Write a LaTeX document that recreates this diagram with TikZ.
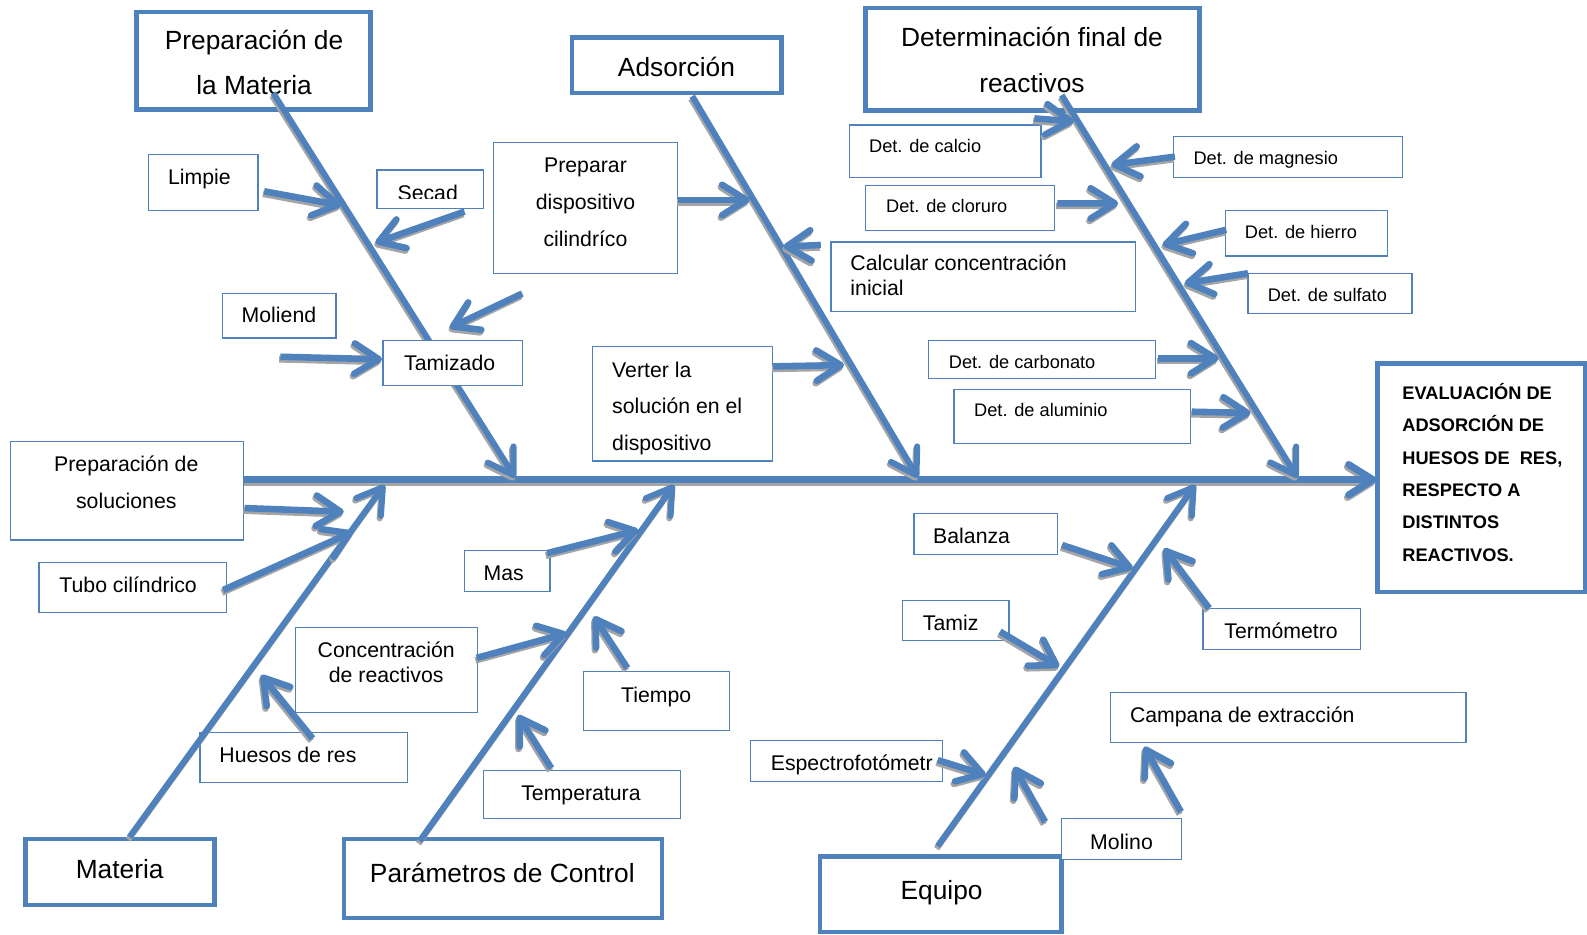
\documentclass[tikz,border=0pt]{standalone}
\usepackage{fontspec}
\setmainfont{Liberation Sans}
\usetikzlibrary{arrows.meta}
\definecolor{myblue}{RGB}{79,129,189}
\definecolor{shad}{RGB}{165,165,165}
\tikzset{
  every node/.style={inner sep=0pt, outer sep=0pt},
  thinbox/.style={draw=myblue, line width=1.2pt, fill=white, rectangle, anchor=north west},
  thickbox/.style={draw=myblue, line width=4.5pt, fill=white, rectangle, anchor=north west},
  tipstyle/.style={-{Straight Barb[length=24pt,width=30pt,round]}},
  blueline/.style={draw=myblue, tipstyle},
  shadowline/.style={draw=shad, tipstyle},
  cat/.style={font=\fontsize{26}{30}\selectfont, anchor=base},
  sub/.style={font=\fontsize{21}{25}\selectfont, anchor=base},
  subl/.style={font=\fontsize{21}{25}\selectfont, anchor=base west},
  detl/.style={font=\fontsize{18}{22}\selectfont, anchor=base west},
  res/.style={font=\fontsize{18}{22}\selectfont\bfseries, anchor=base west},
}
\newcommand{\fbarrow}[3]{%
  \draw[shadowline, line width=#1, transform canvas={shift={(-1.2pt,-2.5pt)}}] (#2) -- (#3);
  \draw[blueline, line width=#1] (#2) -- (#3);}
\begin{document}
\begin{tikzpicture}[x=1pt, y=-1pt]
\useasboundingbox (0,0) rectangle (1568,923);

% ---------- category boxes ----------
\node[thickbox, minimum width=231pt, minimum height=96pt] (prepmat) at (135,12) {};
\node[thickbox, minimum width=207pt, minimum height=55pt] (adsor) at (565,37) {};
\node[thickbox, minimum width=330pt, minimum height=101pt] (deter) at (855,8) {};
\node[thickbox, minimum width=187pt, minimum height=65pt] (materia) at (25,829) {};
\node[thickbox, minimum width=314pt, minimum height=78pt] (param) at (340,829) {};
\node[thickbox, minimum width=239pt, minimum height=75pt] (equipo) at (810,846) {};
\node[thickbox, minimum width=205pt, minimum height=226pt] (result) at (1361,359) {};

\node[cat] (tpm1) at (251,49) {Preparación de};
\node[cat] (tpm2) at (251,93.5) {la Materia};
\node[cat] (tads) at (668.4,75.3) {Adsorción};
\node[cat] (tdet1) at (1019.6,46.3) {Determinación final de};
\node[cat] (tdet2) at (1019.6,91.7) {reactivos};
\node[cat] (tmat) at (118.2,868.4) {Materia};
\node[cat] (tpar) at (496.3,871.7) {Parámetros de Control};
\node[cat] (tequ) at (930.3,888.8) {Equipo};

\node[res] (r1) at (1385.6,394.5) {EVALUACIÓN DE};
\node[res] (r2) at (1385.6,426.5) {ADSORCIÓN DE};
\node[res] (r3) at (1385.6,458.5) {HUESOS DE\ \ RES,};
\node[res] (r4) at (1385.6,490.5) {RESPECTO A};
\node[res] (r5) at (1385.6,522.5) {DISTINTOS};
\node[res] (r6) at (1385.6,554.5) {REACTIVOS.};

% box crossed by a bone
\node[thinbox, minimum width=205.5pt, minimum height=49.5pt] (huesos) at (197.5,723.5) {};

% ---------- spine and bones ----------
\coordinate (sp0) at (240.5,474);
\coordinate (sp1) at (1360,474);
\coordinate (b1s) at (270,92);    \coordinate (b1e) at (509,472);
\coordinate (b2s) at (684,95);    \coordinate (b2e) at (907,472);
\coordinate (b3s) at (1049,94);   \coordinate (b3e) at (1282,472);
\coordinate (b4s) at (128,827);   \coordinate (b4e) at (380,479);
\coordinate (b5s) at (414.6,831); \coordinate (b5e) at (666,479);
\coordinate (b6s) at (926.5,836); \coordinate (b6e) at (1181,479);
\fbarrow{7pt}{sp0}{sp1}
\fbarrow{6pt}{b1s}{b1e}
\fbarrow{6pt}{b2s}{b2e}
\fbarrow{6pt}{b3s}{b3e}
\fbarrow{6pt}{b4s}{b4e}
\fbarrow{6pt}{b5s}{b5e}
\fbarrow{6pt}{b6s}{b6e}

% ---------- thin boxes ----------
\node[thinbox, minimum width=108pt, minimum height=55pt] (limpie) at (147,153) {};
\node[thinbox, minimum width=105pt, minimum height=38pt] (secad) at (372.5,168) {};
\node[thinbox, minimum width=112pt, minimum height=44pt] (moliend) at (220,290) {};
\node[thinbox, minimum width=138pt, minimum height=44.5pt] (tamizado) at (378.5,336.5) {};
\node[thinbox, minimum width=230.5pt, minimum height=97pt] (prepsol) at (10,436.5) {};
\node[thinbox, minimum width=182pt, minimum height=129pt] (preparar) at (487.5,141) {};
\node[thinbox, minimum width=177.5pt, minimum height=113pt] (verter) at (585.5,342.5) {};
\node[thinbox, minimum width=301pt, minimum height=69pt] (calcular) at (821,239) {};
\node[thinbox, minimum width=189pt, minimum height=51.5pt] (calcio) at (839.5,123.5) {};
\node[thinbox, minimum width=226pt, minimum height=40pt] (magnesio) at (1159.5,135) {};
\node[thinbox, minimum width=186.5pt, minimum height=44pt] (cloruro) at (855,183.5) {};
\node[thinbox, minimum width=160.5pt, minimum height=45pt] (hierro) at (1210.5,208) {};
\node[thinbox, minimum width=162pt, minimum height=39.5pt] (sulfato) at (1233,270) {};
\node[thinbox, minimum width=224.5pt, minimum height=37.5pt] (carbonato) at (917.5,336.5) {};
\node[thinbox, minimum width=233.5pt, minimum height=53.5pt] (aluminio) at (942.5,384.5) {};
\node[thinbox, minimum width=185.5pt, minimum height=49pt] (tubo) at (38.5,556) {};
\node[thinbox, minimum width=180pt, minimum height=84pt] (concentr) at (292,620) {};
\node[thinbox, minimum width=84.5pt, minimum height=40.5pt] (mas) at (459,544) {};
\node[thinbox, minimum width=144.5pt, minimum height=58.5pt] (tiempo) at (576.5,663.5) {};
\node[thinbox, minimum width=195pt, minimum height=47pt] (temperatura) at (477.5,761.5) {};
\node[thinbox, minimum width=142pt, minimum height=40pt] (balanza) at (903,507.5) {};
\node[thinbox, minimum width=105pt, minimum height=40pt] (tamiz) at (892,593) {};
\node[thinbox, minimum width=155.5pt, minimum height=40.5pt] (termometro) at (1188.5,601) {};
\node[thinbox, minimum width=351pt, minimum height=49pt] (campana) at (1097.5,684.5) {};
\node[thinbox, minimum width=190pt, minimum height=40.5pt] (espectro) at (741.5,731.5) {};
\node[thinbox, minimum width=119pt, minimum height=40pt] (molino) at (1048.5,809) {};

% ---------- texts of thin boxes ----------
\node[sub] (tlimpie) at (197,182) {Limpie};
\begin{scope}
  \clip (372.5,168) rectangle (477.5,196.5);
  \node[sub] (tsecad) at (422.6,198) {Secad};
\end{scope}
\node[sub] (tmoliend) at (275.6,318.8) {Moliend};
\node[sub] (ttamizado) at (444.3,366.5) {Tamizado};
\node[sub] (tps1) at (124.8,466.3) {Preparación de};
\node[sub] (tps2) at (124.8,502.5) {soluciones};
\node[sub] (tpr1) at (578.5,170.5) {Preparar};
\node[sub] (tpr2) at (578.5,206.8) {dispositivo};
\node[sub] (tpr3) at (578.5,244) {cilindríco};
\node[subl] (tve1) at (604.9,372.5) {Verter la};
\node[subl] (tve2) at (604.9,408.7) {solución en el};
\node[subl] (tve3) at (604.9,445.5) {dispositivo};
\node[subl] (tca1) at (840.3,267.7) {Calcular concentración};
\node[subl] (tca2) at (840.3,292.4) {inicial};
\node[detl] (tcalcio) at (858.7,150.5) {Det. de calcio};
\node[detl] (tmagnesio) at (1179.2,162.3) {Det. de magnesio};
\node[detl] (tcloruro) at (875.5,209.7) {Det. de cloruro};
\node[detl] (thierro) at (1230,235.5) {Det. de hierro};
\node[detl] (tsulfato) at (1252.6,298) {Det. de sulfato};
\node[detl] (tcarbonato) at (937.5,363.9) {Det. de carbonato};
\node[detl] (taluminio) at (962.5,411.6) {Det. de aluminio};
\node[sub] (ttubo) at (126.6,585.5) {Tubo cilíndrico};
\node[sub] (tco1) at (381.6,649.8) {Concentración};
\node[sub] (tco2) at (381.6,674.8) {de reactivos};
\node[sub] (thuesos) at (284.5,753.5) {Huesos de res};
\node[sub] (tmas) at (497.6,573.4) {Mas};
\node[sub] (ttiempo) at (648.4,694.3) {Tiempo};
\node[sub] (ttemp) at (574,791) {Temperatura};
\node[sub] (tbalanza) at (960,537) {Balanza};
\node[sub] (ttamiz) at (939.3,622.8) {Tamiz};
\node[sub] (tterm) at (1265.7,630.7) {Termómetro};
\node[subl] (tcampana) at (1116.5,714) {Campana de extracción};
\node[subl] (tespectro) at (761.6,760.8) {Espectrofotómetr};
\node[sub] (tmolino) at (1108.1,839.2) {Molino};

% ---------- cause arrows ----------
\coordinate (aLimS) at (261,189);     \coordinate (aLimE) at (337,203);
\coordinate (aSecS) at (459,209);     \coordinate (aSecE) at (371,240);
\coordinate (aTamS) at (516,290);     \coordinate (aTamE) at (444.5,324);
\coordinate (aMolS) at (277,352.5);   \coordinate (aMolE) at (377.5,355);
\coordinate (aPreS) at (670,197.6);   \coordinate (aPreE) at (740.7,197.6);
\coordinate (aCalS) at (811,242);     \coordinate (aCalE) at (774,243.7);
\coordinate (aVerS) at (764,362);     \coordinate (aVerE) at (834,360.7);
\coordinate (aCioS) at (1022,117);    \coordinate (aCioE) at (1061,120);
\coordinate (aMagS) at (1160.8,154.8);\coordinate (aMagE) at (1098,163);
\coordinate (aCloS) at (1044.6,200.9);\coordinate (aCloE) at (1104.8,201);
\coordinate (aHieS) at (1211.6,227);  \coordinate (aHieE) at (1148.7,242);
\coordinate (aSulS) at (1233,270);    \coordinate (aSulE) at (1170.5,280);
\coordinate (aCarS) at (1144,354);    \coordinate (aCarE) at (1204,354);
\coordinate (aAluS) at (1177.6,406.8);\coordinate (aAluE) at (1235.7,408);
\coordinate (aPsoS) at (241.7,502);   \coordinate (aPsoE) at (339.7,505.6);
\coordinate (aTubS) at (220.5,583);   \coordinate (aTubE) at (348.5,525.4);
\coordinate (aHueS) at (308.8,729.5); \coordinate (aHueE) at (258,667);
\coordinate (aMasS) at (540.4,546.6); \coordinate (aMasE) at (630.8,523.7);
\coordinate (aConS) at (471,650);     \coordinate (aConE) at (560,625.6);
\coordinate (aTieS) at (619.8,660);   \coordinate (aTieE) at (586.7,609);
\coordinate (aTemS) at (544.7,759);   \coordinate (aTemE) at (511.7,706.5);
\coordinate (aBalS) at (1049.4,538.5);\coordinate (aBalE) at (1119.3,561.6);
\coordinate (aTerS) at (1194.7,601);  \coordinate (aTerE) at (1150,541.8);
\coordinate (aTmzS) at (988,624);     \coordinate (aTmzE) at (1046.5,658.8);
\coordinate (aEspS) at (926.5,751);   \coordinate (aEspE) at (974,765.8);
\coordinate (aMoiS) at (1032.6,812);  \coordinate (aMoiE) at (1001.9,757.6);
\coordinate (aCamS) at (1166.8,802);  \coordinate (aCamE) at (1130.5,737.8);

\foreach \a in {Lim,Sec,Tam,Mol,Pre,Cal,Ver,Cio,Mag,Clo,Hie,Sul,Car,Alu,Pso,Tub,Hue,Mas,Con,Tie,Tem,Bal,Ter,Tmz,Esp,Moi,Cam}{
  \fbarrow{6.5pt}{a\a S}{a\a E}
}
\end{tikzpicture}
\end{document}
